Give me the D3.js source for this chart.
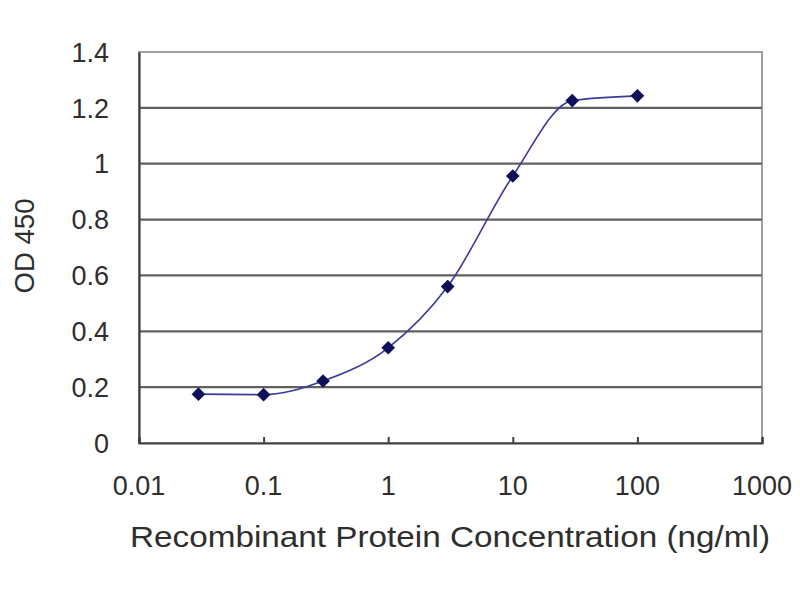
<!DOCTYPE html>
<meta charset="utf-8">
<style>
body { margin: 0; background: #fff; }
text { font-family: "Liberation Sans", Arial, sans-serif; fill: #2e2e2e; }
</style>
<svg width="800" height="600"></svg>
<script src="https://cdn.jsdelivr.net/npm/d3@7"></script>
<script>

// concentration (ng/ml) and OD 450 readings
let concentrations = [0.03, 0.1, 0.3, 1, 3, 10, 30, 100];
let odValues = [0.175, 0.173, 0.222, 0.341, 0.56, 0.956, 1.226, 1.243];

let xTicks = [0.01, 0.1, 1, 10, 100, 1000];
let xTickLabels = ['0.01', '0.1', '1', '10', '100', '1000'];
let yTicks = [0, 0.2, 0.4, 0.6, 0.8, 1, 1.2, 1.4];
let yTickLabels = ['0', '0.2', '0.4', '0.6', '0.8', '1', '1.2', '1.4'];

let svg = d3.select('svg');
let plotLeft = 139, plotRight = 762, plotTop = 52, plotBottom = 443;

let x = d3.scaleLog().domain([0.01, 1000]).range([plotLeft, plotRight]);
let y = d3.scaleLinear().domain([0, 1.4]).range([plotBottom, plotTop]);

// frame
svg.append('rect')
    .attr('x', plotLeft).attr('y', plotTop)
    .attr('width', plotRight - plotLeft).attr('height', plotBottom - plotTop)
    .attr('fill', 'none').attr('stroke', '#a0a0a0').attr('stroke-width', 2);

// horizontal gridlines
svg.append('g')
  .selectAll('line')
  .data(yTicks.filter(d => d > 0 && d < 1.4))
  .enter().append('line')
    .attr('x1', plotLeft).attr('x2', plotRight)
    .attr('y1', d => y(d)).attr('y2', d => y(d))
    .attr('stroke', '#606060').attr('stroke-width', 2.2);

// axes
let xAxis = svg.append('g')
    .attr('transform', 'translate(0,' + plotBottom + ')')
    .call(d3.axisTop(x).tickValues(xTicks).tickSize(6).tickFormat(''));
xAxis.select('.domain').attr('stroke', '#404040').attr('stroke-width', 2.2);
xAxis.selectAll('.tick line').attr('stroke', '#404040').attr('stroke-width', 2);

svg.append('g')
  .selectAll('text')
  .data(xTicks)
  .enter().append('text')
    .attr('x', d => x(d))
    .attr('y', 495)
    .attr('text-anchor', 'middle')
    .style('font-size', '27px')
    .text((d, i) => xTickLabels[i]);

let yAxis = svg.append('g')
    .attr('transform', 'translate(' + plotLeft + ',0)')
    .call(d3.axisLeft(y).tickValues(yTicks).tickSize(0).tickFormat(''));
yAxis.select('.domain').attr('stroke', '#404040').attr('stroke-width', 2.2);

svg.append('g')
  .selectAll('text')
  .data(yTicks)
  .enter().append('text')
    .attr('x', 109)
    .attr('y', d => y(d))
    .attr('dy', '0.36em')
    .attr('text-anchor', 'end')
    .style('font-size', '27px')
    .text((d, i) => yTickLabels[i]);

// axis titles
svg.append('text')
    .attr('x', 450).attr('y', 547)
    .attr('text-anchor', 'middle')
    .attr('textLength', 640).attr('lengthAdjust', 'spacingAndGlyphs')
    .style('font-size', '29px')
    .text('Recombinant Protein Concentration (ng/ml)');

svg.append('text')
    .attr('transform', 'translate(34,246) rotate(-90)')
    .attr('text-anchor', 'middle')
    .attr('textLength', 95).attr('lengthAdjust', 'spacingAndGlyphs')
    .style('font-size', '27px')
    .text('OD 450');

// curve through the points
let points = concentrations.map((c, i) => [c, odValues[i]]);
let line = d3.line()
    .x(d => x(d[0]))
    .y(d => y(d[1]))
    .curve(d3.curveMonotoneX);

svg.append('path')
    .datum(points)
    .attr('d', line)
    .attr('fill', 'none')
    .attr('stroke', '#3a3a9a')
    .attr('stroke-width', 1.6);

// diamond markers
svg.append('g')
  .selectAll('path')
  .data(points)
  .enter().append('path')
    .attr('transform', d => 'translate(' + x(d[0]) + ',' + y(d[1]) + ')')
    .attr('d', d3.symbol().type(d3.symbolDiamond2).size(120))
    .attr('fill', '#10105a');

</script>
